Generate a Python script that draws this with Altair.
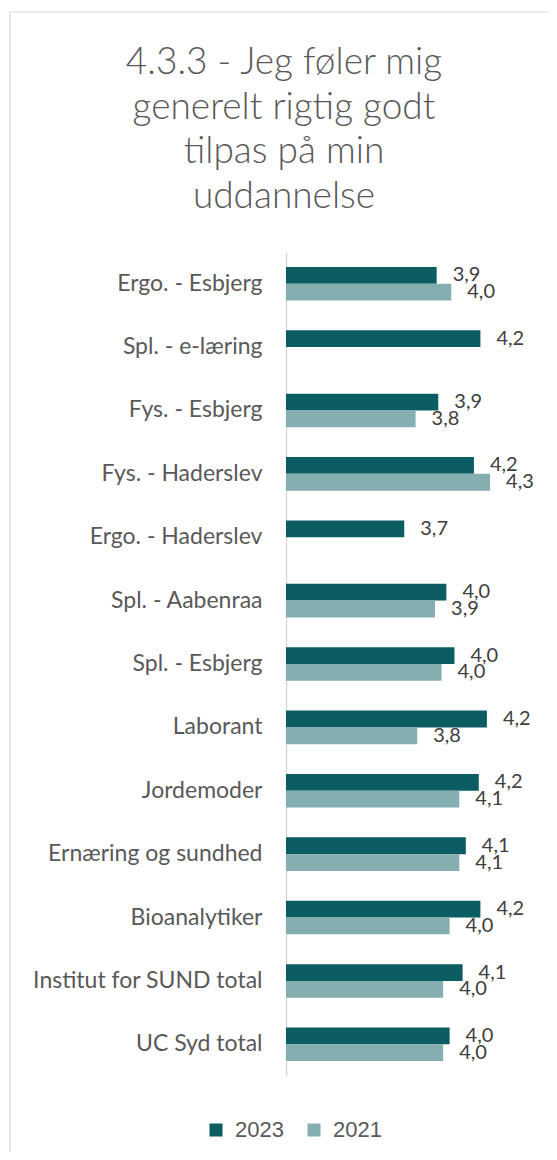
import altair as alt
import pandas as pd

categories = [
    "Ergo. - Esbjerg", "Spl. - e-læring", "Fys. - Esbjerg", "Fys. - Haderslev",
    "Ergo. - Haderslev", "Spl. - Aabenraa", "Spl. - Esbjerg", "Laborant",
    "Jordemoder", "Ernæring og sundhed", "Bioanalytiker",
    "Institut for SUND total", "UC Syd total",
]
values_2023 = [3.93, 4.20, 3.94, 4.16, 3.73, 3.99, 4.04, 4.24, 4.19, 4.11, 4.20, 4.09, 4.01]
values_2021 = [4.02, None, 3.80, 4.26, None, 3.92, 3.96, 3.81, 4.07, 4.07, 4.01, 3.97, 3.97]
years = ["2023", "2021"]
colors = ["#0B5D63", "#84AEB0"]
title_lines = ["4.3.3 - Jeg føler mig", "generelt rigtig godt", "tilpas på min", "uddannelse"]

rows = []
for cat, v23, v21 in zip(categories, values_2023, values_2021):
    for yr, v in zip(years, [v23, v21]):
        if v is not None:
            rows.append({"cat": cat, "year": yr, "value": v,
                         "label": f"{v:.1f}".replace(".", ",")})
df = pd.DataFrame(rows)

FONT = "Lato"

y_enc = alt.Y("cat:N", sort=categories, title=None,
              scale=alt.Scale(paddingInner=0.47, paddingOuter=0.235),
              axis=alt.Axis(labelFont=FONT, labelFontSize=23, labelColor="#595959",
                            labelPadding=24, ticks=False, domainColor="#d9d9d9",
                            domainWidth=1.5, labelLimit=300))
yoff = alt.YOffset("year:N", sort=years, scale=alt.Scale(domain=years, paddingInner=0, paddingOuter=0))
x_enc = alt.X("value:Q", scale=alt.Scale(domain=[3, 4.5], nice=False, zero=False), axis=None)

base = alt.Chart(df)

one = pd.DataFrame({"a": [0]})

frame = alt.Chart(one).mark_rect(
    fillOpacity=0, stroke="#d9d9d9", strokeWidth=1.2
).encode(x=alt.value(-276), x2=alt.value(700), y=alt.value(-240), y2=alt.value(1000))

title = alt.Chart(one).mark_text(
    align="center", baseline="alphabetic", font=FONT, fontSize=37, fontWeight=300,
    color="#595959", lineHeight=44.5
).encode(x=alt.value(-2), y=alt.value(-178), text=alt.value(title_lines))

bars = base.mark_bar().encode(
    y=y_enc, yOffset=yoff, x=x_enc, x2=alt.datum(3),
    color=alt.Color("year:N", sort=years,
                    scale=alt.Scale(domain=years, range=colors),
                    legend=alt.Legend(title=None, orient="none", legendX=-81, legendY=867,
                                      direction="horizontal", symbolType="square",
                                      symbolSize=169, symbolStrokeWidth=0,
                                      labelFont="Liberation Sans", labelFontSize=22,
                                      labelColor="#595959", labelOffset=8,
                                      columnPadding=19, padding=0)),
)

labels = base.mark_text(align="left", baseline="middle", dx=16, font=FONT,
                        fontSize=20, color="#404040").encode(
    y=y_enc, yOffset=yoff, x=x_enc, text="label:N")

chart = alt.layer(frame, title, bars, labels).properties(
    width=243, height=824,
    autosize=alt.AutoSizeParams(type="none"),
    padding={"left": 278, "top": 244, "right": 20, "bottom": 76},
).configure_view(stroke=None)

chart.save("out.html", embed_options={"renderer": "svg", "actions": False})
